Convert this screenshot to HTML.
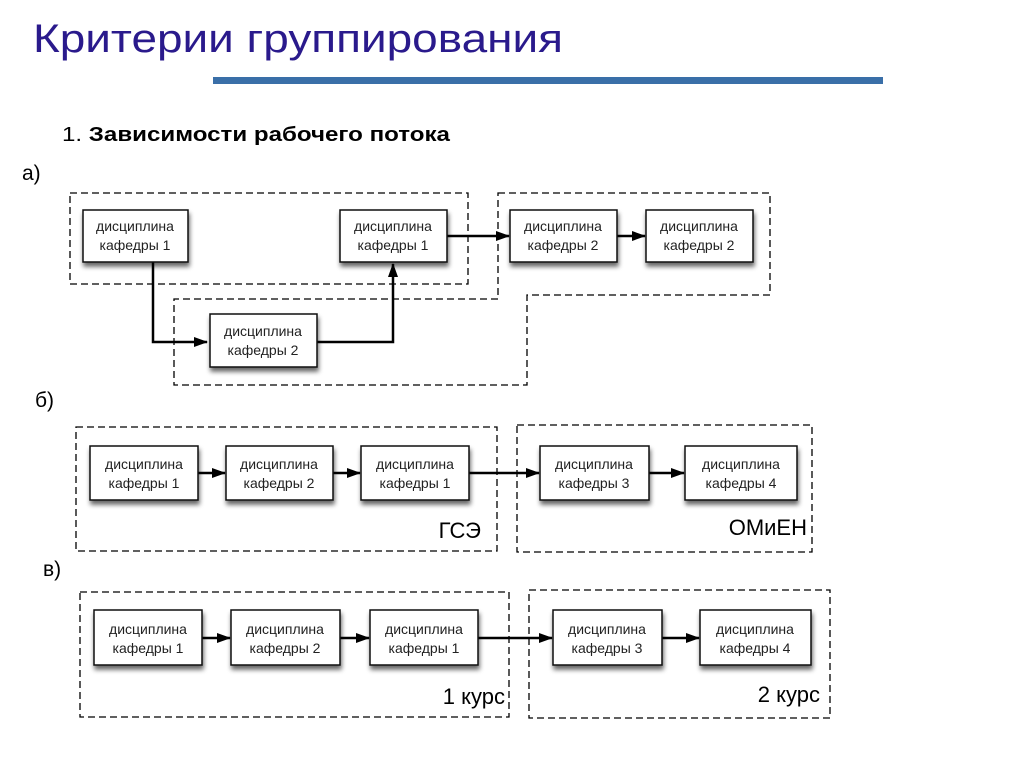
<!DOCTYPE html>
<html><head><meta charset="utf-8"><style>
html,body{margin:0;padding:0;background:#fff;}
svg{display:block;}
text{font-family:"Liberation Sans",Arial,sans-serif;}
</style></head><body>
<svg width="1024" height="768" viewBox="0 0 1024 768" xmlns="http://www.w3.org/2000/svg">
<defs>
<filter id="sh" x="-20%" y="-20%" width="150%" height="160%"><feGaussianBlur in="SourceAlpha" stdDeviation="2.5"/><feOffset dx="1" dy="4"/><feComponentTransfer><feFuncA type="linear" slope="0.6"/></feComponentTransfer><feMerge><feMergeNode/><feMergeNode in="SourceGraphic"/></feMerge></filter>
<marker id="ar2" markerWidth="14" markerHeight="10" refX="13" refY="5" orient="auto" markerUnits="userSpaceOnUse"><path d="M0,0 L14,5 L0,10 Z" fill="#000"/></marker>
</defs>
<text x="33" y="52" font-size="40" fill="#2a1a8c" textLength="530" lengthAdjust="spacingAndGlyphs">Критерии группирования</text>
<rect x="213" y="77" width="670" height="7" fill="#3a6fa8"/>
<text x="62" y="141" font-size="20" fill="#000" textLength="388" lengthAdjust="spacingAndGlyphs">1. <tspan font-weight="bold">Зависимости рабочего потока</tspan></text>
<text x="22" y="180" font-size="21">а)</text>
<text x="35" y="407" font-size="21">б)</text>
<text x="43" y="576" font-size="21">в)</text>

<g fill="none" stroke="#000" stroke-width="1.3" stroke-dasharray="7,4">
<rect x="70" y="193" width="398" height="91"/>
<path d="M498,193 H770 V295 H527 V385 H174 V299 H498 Z"/>
<rect x="76" y="427" width="421" height="124"/>
<rect x="517" y="425" width="295" height="127"/>
<rect x="80" y="592" width="429" height="125"/>
<rect x="529" y="590" width="301" height="128"/>
</g>

<g stroke="#000" stroke-width="2.5" fill="none">
<path d="M153,262 V342 H207" marker-end="url(#ar2)"/>
<path d="M317,342 H393 V264" marker-end="url(#ar2)"/>
<path d="M447,236 H509" marker-end="url(#ar2)"/>
<path d="M617,236 H645" marker-end="url(#ar2)"/>
<path d="M198,473 H225" marker-end="url(#ar2)"/>
<path d="M333,473 H360" marker-end="url(#ar2)"/>
<path d="M469,473 H539" marker-end="url(#ar2)"/>
<path d="M649,473 H684" marker-end="url(#ar2)"/>
<path d="M202,638 H230" marker-end="url(#ar2)"/>
<path d="M340,638 H369" marker-end="url(#ar2)"/>
<path d="M478,638 H552" marker-end="url(#ar2)"/>
<path d="M662,638 H699" marker-end="url(#ar2)"/>
</g>

<g font-size="14" text-anchor="middle" fill="#222">
<g filter="url(#sh)" fill="#fff" stroke="#111" stroke-width="1.5">
<rect x="83" y="210" width="105" height="52"/>
<rect x="340" y="210" width="107" height="52"/>
<rect x="510" y="210" width="107" height="52"/>
<rect x="646" y="210" width="107" height="52"/>
<rect x="210" y="314" width="107" height="53"/>
<rect x="90" y="446" width="108" height="54"/>
<rect x="226" y="446" width="107" height="54"/>
<rect x="361" y="446" width="108" height="54"/>
<rect x="540" y="446" width="109" height="54"/>
<rect x="685" y="446" width="112" height="54"/>
<rect x="94" y="610" width="108" height="55"/>
<rect x="231" y="610" width="109" height="55"/>
<rect x="370" y="610" width="108" height="55"/>
<rect x="553" y="610" width="109" height="55"/>
<rect x="700" y="610" width="111" height="55"/>
</g>
<text x="135" y="231">дисциплина</text><text x="135" y="250">кафедры 1</text>
<text x="393" y="231">дисциплина</text><text x="393" y="250">кафедры 1</text>
<text x="563" y="231">дисциплина</text><text x="563" y="250">кафедры 2</text>
<text x="699" y="231">дисциплина</text><text x="699" y="250">кафедры 2</text>
<text x="263" y="336">дисциплина</text><text x="263" y="355">кафедры 2</text>
<text x="144" y="469">дисциплина</text><text x="144" y="488">кафедры 1</text>
<text x="279" y="469">дисциплина</text><text x="279" y="488">кафедры 2</text>
<text x="415" y="469">дисциплина</text><text x="415" y="488">кафедры 1</text>
<text x="594" y="469">дисциплина</text><text x="594" y="488">кафедры 3</text>
<text x="741" y="469">дисциплина</text><text x="741" y="488">кафедры 4</text>
<text x="148" y="634">дисциплина</text><text x="148" y="653">кафедры 1</text>
<text x="285" y="634">дисциплина</text><text x="285" y="653">кафедры 2</text>
<text x="424" y="634">дисциплина</text><text x="424" y="653">кафедры 1</text>
<text x="607" y="634">дисциплина</text><text x="607" y="653">кафедры 3</text>
<text x="755" y="634">дисциплина</text><text x="755" y="653">кафедры 4</text>
</g>
<g font-size="22" text-anchor="end" fill="#000">
<text x="481" y="538">ГСЭ</text>
<text x="807" y="535">ОМиЕН</text>
<text x="505" y="704">1 курс</text>
<text x="820" y="702">2 курс</text>
</g>
</svg>
</body></html>
